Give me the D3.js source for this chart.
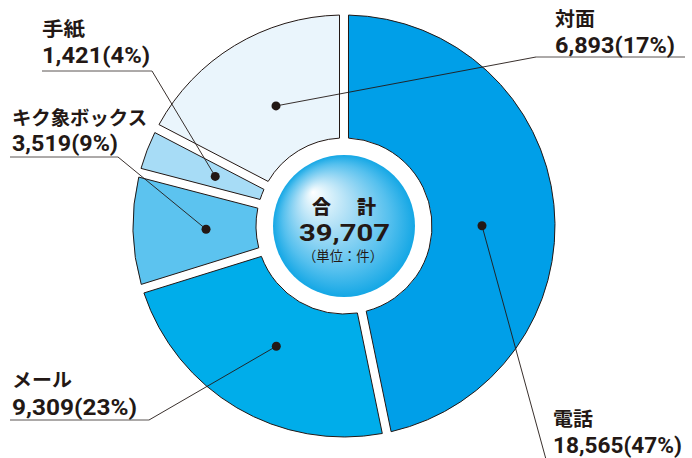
<!DOCTYPE html>
<html><head><meta charset="utf-8">
<script src="https://cdn.jsdelivr.net/npm/d3@7"></script>
<style>
html,body{margin:0;padding:0;background:#fff;}
svg{display:block;}
</style></head>
<body>
<svg id="chart" width="692" height="458"></svg>
<script>
// ---- data ----
const categories = ["電話", "メール", "キク象ボックス", "手紙", "対面"];
const values = [18565, 9309, 3519, 1421, 6893];
const percentLabels = ["47%", "23%", "9%", "4%", "17%"];
const totalLabel = "39,707";
const totalTitle = "合　計";
const unitLabel = "（単位：件）";

// ---- styles / layout ----
const colors = ["#009fe8", "#00adea", "#5cc3ef", "#a7dcf6", "#eaf5fc"];
const ink = "#231815";
const cx = 344, cy = 226, R = 211, r0 = 88, rc = 71, dotR = 138;
const labelLayout = [
  {x: 553, y1: 426, y2: 453, ex: 547, ey: 463, u0: 547, u1: 692, w1: 40, w2: 129, dA: 0.1},
  {x: 12,  y1: 387, y2: 415, ex: 149, ey: 420, u0: 10, u1: 149, w1: 60, w2: 125, dA: -0.02},
  {x: 12,  y1: 125, y2: 151, ex: 118, ey: 157, u0: 10, u1: 118, w1: 135, w2: 106, dA: 0},
  {x: 42,  y1: 36,  y2: 63,  ex: 152, ey: 71,  u0: 42, u1: 152, w1: 43, w2: 108, dA: 0},
  {x: 555, y1: 26,  y2: 53,  ex: 536, ey: 57,  u0: 536, u1: 685, w1: 40, w2: 120, dA: 0.03}
];

const fmt = d3.format(",");
const svg = d3.select("#chart");

const defs = svg.append("defs");
const grad = defs.append("radialGradient").attr("id", "cg")
  .attr("cx", "50%").attr("cy", "50%").attr("r", "50%")
  .attr("fx", "28%").attr("fy", "26%");
[["0%", "#ffffff"], ["12%", "#e4f5fc"], ["40%", "#a5dcf5"], ["75%", "#55c0ee"], ["100%", "#14a7e5"]]
  .forEach(([o, c]) => grad.append("stop").attr("offset", o).attr("stop-color", c));

const g = svg.append("g").attr("transform", `translate(${cx},${cy})`);

const pie = d3.pie().sort(null).value(d => d);
const arcs = pie(values);
const arc = d3.arc().innerRadius(r0).outerRadius(R).padAngle(0.09).padRadius(100);
const dotArc = d3.arc().innerRadius(dotR).outerRadius(dotR);

g.selectAll("path.slice").data(arcs).join("path")
  .attr("class", "slice")
  .attr("d", d => arc({...d, padAngle: 0.09}))
  .attr("fill", (d, i) => colors[i])
  .attr("stroke", ink).attr("stroke-width", 1);

// center circle
g.append("circle").attr("r", rc).attr("fill", "url(#cg)");

// leader lines
const lines = svg.append("g");
arcs.forEach((d, i) => {
  const L = labelLayout[i];
  const [px, py] = dotArc.centroid({startAngle: d.startAngle + L.dA, endAngle: d.endAngle + L.dA});
  lines.append("line")
    .attr("x1", cx + px).attr("y1", cy + py).attr("x2", L.ex).attr("y2", L.ey)
    .attr("stroke", ink).attr("stroke-width", 0.9);
  lines.append("line")
    .attr("x1", L.u0).attr("y1", L.ey).attr("x2", L.u1).attr("y2", L.ey)
    .attr("stroke", "#5a5553").attr("stroke-width", 1);
  lines.append("circle").attr("cx", cx + px).attr("cy", cy + py).attr("r", 4.5).attr("fill", ink);
});

// labels
const labels = svg.append("g").attr("fill", ink);
categories.forEach((c, i) => {
  const L = labelLayout[i];
  labels.append("text").attr("x", L.x).attr("y", L.y1)
    .attr("font-family", "'Noto Sans CJK JP', sans-serif").attr("font-weight", 700)
    .attr("font-size", 19).attr("textLength", L.w1).attr("lengthAdjust", "spacingAndGlyphs")
    .text(c);
  labels.append("text").attr("x", L.x).attr("y", L.y2)
    .attr("font-family", "Roboto, sans-serif").attr("font-weight", 700)
    .attr("font-size", 22).attr("textLength", L.w2).attr("lengthAdjust", "spacingAndGlyphs")
    .text(`${fmt(values[i])}(${percentLabels[i]})`);
});

// center texts
const ct = svg.append("g").attr("fill", ink).attr("text-anchor", "middle");
ct.append("text").attr("x", cx).attr("y", 214)
  .attr("font-family", "'Noto Sans CJK JP', sans-serif").attr("font-weight", 900)
  .attr("font-size", 19).attr("textLength", 64).attr("lengthAdjust", "spacing")
  .text(totalTitle);
ct.append("text").attr("x", cx + 0.5).attr("y", 241)
  .attr("font-family", "Roboto, sans-serif").attr("font-weight", 700)
  .attr("font-size", 23).attr("textLength", 91).attr("lengthAdjust", "spacingAndGlyphs")
  .text(totalLabel);
ct.append("text").attr("x", cx - 1).attr("y", 261)
  .attr("font-family", "'Noto Sans CJK JP', sans-serif").attr("font-weight", 400)
  .attr("font-size", 14).attr("textLength", 80).attr("lengthAdjust", "spacingAndGlyphs")
  .text(unitLabel);
</script>
</body></html>
